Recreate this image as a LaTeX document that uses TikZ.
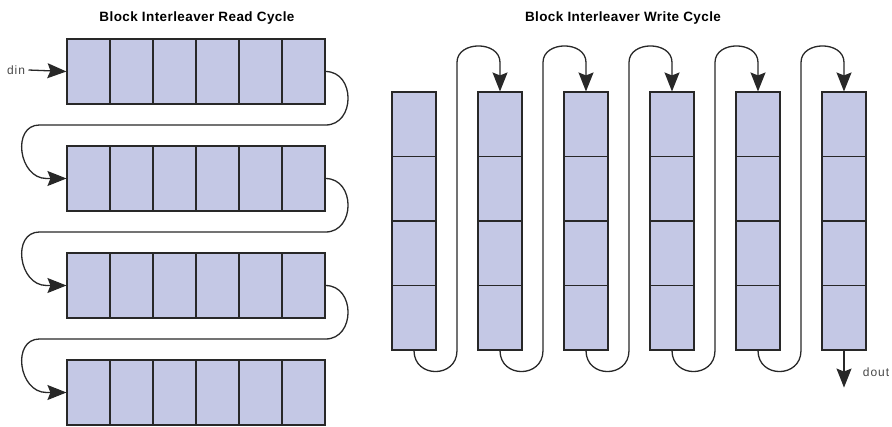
\documentclass[tikz,border=0pt]{standalone}
\usepackage{fontspec}
\setmainfont{Liberation Sans}
\newfontfamily\headfont[LetterSpace=3]{Liberation Sans}
\newfontfamily\portfont[LetterSpace=8]{Liberation Sans}
\usetikzlibrary{arrows.meta, calc}
\definecolor{cellblue}{RGB}{196,200,229}
\definecolor{inkgray}{RGB}{40,40,40}
\tikzset{
    >={Stealth[length=19pt, width=15pt, inset=3pt]}, % big solid heads
    link/.style={->, draw=inkgray, line width=1.3pt}, % connectors between cells
    cell/.style={draw=inkgray, fill=cellblue, inner sep=0pt, line width=1.1pt}, % one memory cell
    rcell/.style={cell, minimum width=43pt, minimum height=65pt}, % read cycle cell
    wcell/.style={cell, minimum width=44pt, minimum height=64.5pt}, % write cycle cell
    title/.style={font=\headfont\bfseries\fontsize{13.5}{15}\selectfont}, % panel titles
    port/.style={font=\portfont\fontsize{12}{14}\selectfont, text=inkgray!85}, % din / dout
}

\begin{document}
\begin{tikzpicture}[x=1pt, y=-1pt]
    \useasboundingbox (0,0) rectangle (892,426);
    \node[title] (readtitle) at (197,18) {Block Interleaver Read Cycle};
    \node[title] (writetitle) at (623,18) {Block Interleaver Write Cycle};
    % read cycle: 4 rows of 6 cells
    \foreach \i in {1,...,4}
        \foreach \j in {1,...,6}
            \node[rcell] (r\i-\j) at (88.5+43*\j-43, 71.5+107*\i-107) {};
    % write cycle: 6 columns of 4 cells
    \foreach \j in {1,...,6}
        \foreach \k in {1,...,4}
            \node[wcell] (w\j-\k) at (414+86*\j-86, 124.25+64.5*\k-64.5) {};
    \node[port] (din) at (16,70) {din};
    \draw[link] (din.east) -- (r1-1.west);
    \foreach \i [evaluate=\i as \n using int(\i+1)] in {1,2,3}
        \draw[link] (r\i-6.east) .. controls +(30,0) and +(30,0) .. ($(r\i-6.east)!0.5!(r\n-6.east)$)
            -- ($(r\i-1.west)!0.5!(r\n-1.west)+(-27,0)$)
            .. controls +(-28,0) and +(-28,0) .. ($(r\n-1.west)+(-20,0)$) -- (r\n-1.west);
    \foreach \j [evaluate=\j as \n using int(\j+1)] in {1,...,5}
        \draw[link] (w\j-4.south) .. controls +(0,28) and +(0,28) .. ($(w\j-4.south east)!0.5!(w\n-4.south west)$)
            -- ($(w\j-1.north east)!0.5!(w\n-1.north west)+(0,-29)$)
            .. controls +(0,-22) and +(0,-22) .. ($(w\n-1.north)+(0,-29)$) -- (w\n-1.north);
    \coordinate (doutend) at ($(w6-4.south)+(0,37)$);
    \draw[link] (w6-4.south) -- (doutend);
    \node[port] (dout) at (876,372) {dout};
\end{tikzpicture}
\end{document}
